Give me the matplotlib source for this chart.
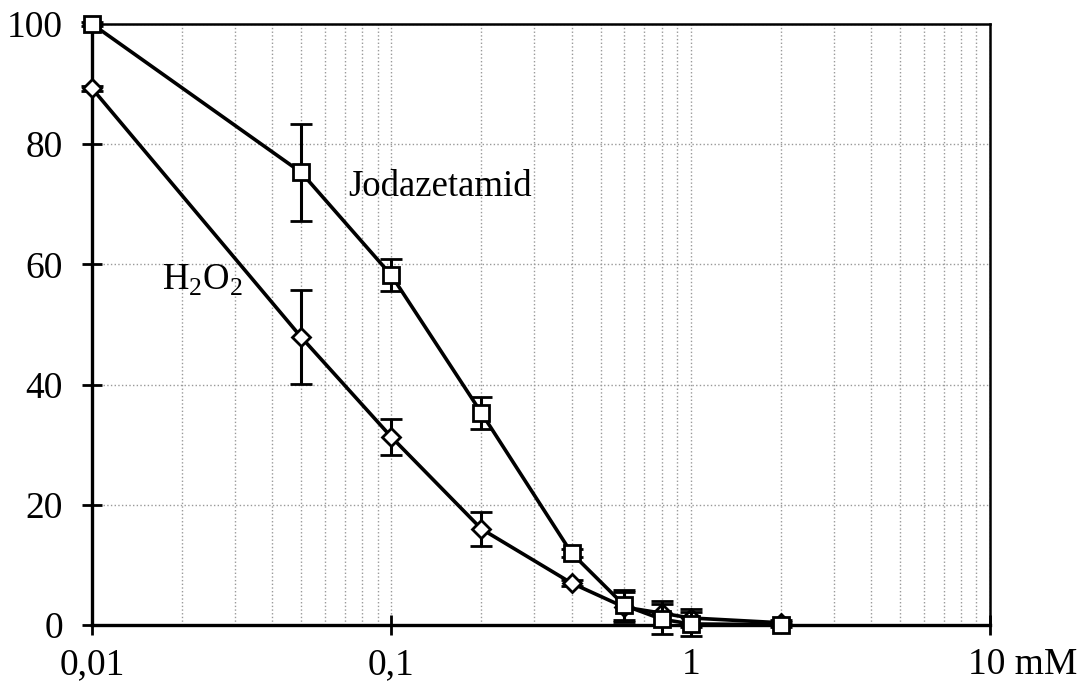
import numpy as np
import matplotlib.pyplot as plt
from matplotlib.ticker import FixedLocator, LogLocator, NullFormatter
from matplotlib.transforms import ScaledTranslation

plt.rcParams['font.family'] = ['Liberation Serif', 'DejaVu Serif']
plt.rcParams['mathtext.fontset'] = 'custom'
plt.rcParams['mathtext.rm'] = 'Liberation Serif'

# concentration in mM
conc = [0.01, 0.05, 0.1, 0.2, 0.4, 0.6, 0.8, 1.0, 2.0]

# Jodazetamid (squares)
jod = [100, 75.3, 58.2, 35.3, 12.0, 3.3, 1.0, 0.2, 0.1]
jod_err = [0.3, 8.0, 2.7, 2.7, 0.6, 2.5, 2.5, 2.0, 0.4]

# H2O2 (diamonds)
h2o2 = [89.3, 47.9, 31.3, 16.0, 7.0, 3.0, 2.0, 1.2, 0.4]
h2o2_err = [0.4, 7.8, 3.0, 2.9, 0.5, 2.5, 2.0, 1.5, 0.4]

xticks = [0.01, 0.1, 1, 10]
xlabels = ['0,01', '0,1', '1', '10 mM']
yticks = [0, 20, 40, 60, 80, 100]

fig = plt.figure(figsize=(10.82, 6.84), dpi=100)
ax = fig.add_axes([0.085, 0.086, 0.830, 0.879])

ax.set_xscale('log')
ax.set_xlim(0.01, 10)
ax.set_ylim(0, 100)

ax.errorbar(conc, h2o2, yerr=h2o2_err, color='black', lw=2.6,
            marker='D', markersize=9, markerfacecolor='white',
            markeredgecolor='black', markeredgewidth=2.0,
            elinewidth=2.2, capsize=8, capthick=2.2, clip_on=False, zorder=3)
ax.errorbar(conc, jod, yerr=jod_err, color='black', lw=2.6,
            marker='s', markersize=11, markerfacecolor='white',
            markeredgecolor='black', markeredgewidth=2.0,
            elinewidth=2.2, capsize=8, capthick=2.2, clip_on=False, zorder=4)

ax.text(0.146, 72.9, 'Jodazetamid', fontsize=26.5, ha='center', va='center')
ax.text(0.0235, 57.4, r'H$_2$O$_2$', fontsize=26.5, ha='center', va='center')

ax.xaxis.set_major_locator(FixedLocator(xticks))
ax.set_xticklabels(xlabels)
ax.xaxis.set_minor_locator(LogLocator(base=10, subs=np.arange(2, 10)))
ax.xaxis.set_minor_formatter(NullFormatter())
ax.set_yticks(yticks)

ax.tick_params(axis='both', which='major', direction='inout', length=14,
               width=2, labelsize=27)
ax.tick_params(axis='x', pad=9)
ax.tick_params(axis='y', pad=14)
ax.tick_params(axis='x', which='minor', length=0)

# the unit follows the last number, "10" stays over its tick
last = ax.get_xticklabels()[-1]
last.set_ha('left')
last.set_transform(last.get_transform() +
                   ScaledTranslation(-0.22, 0, fig.dpi_scale_trans))

ax.grid(True, which='both', axis='x', color='#999999', ls=':', lw=1.0)
ax.grid(True, which='major', axis='y', color='#999999', ls=':', lw=1.0)
ax.set_axisbelow(True)

for side in ['left', 'bottom']:
    ax.spines[side].set_linewidth(2.4)
for side in ['top', 'right']:
    ax.spines[side].set_linewidth(1.8)

fig.savefig('out.png', dpi=100, facecolor='white')
